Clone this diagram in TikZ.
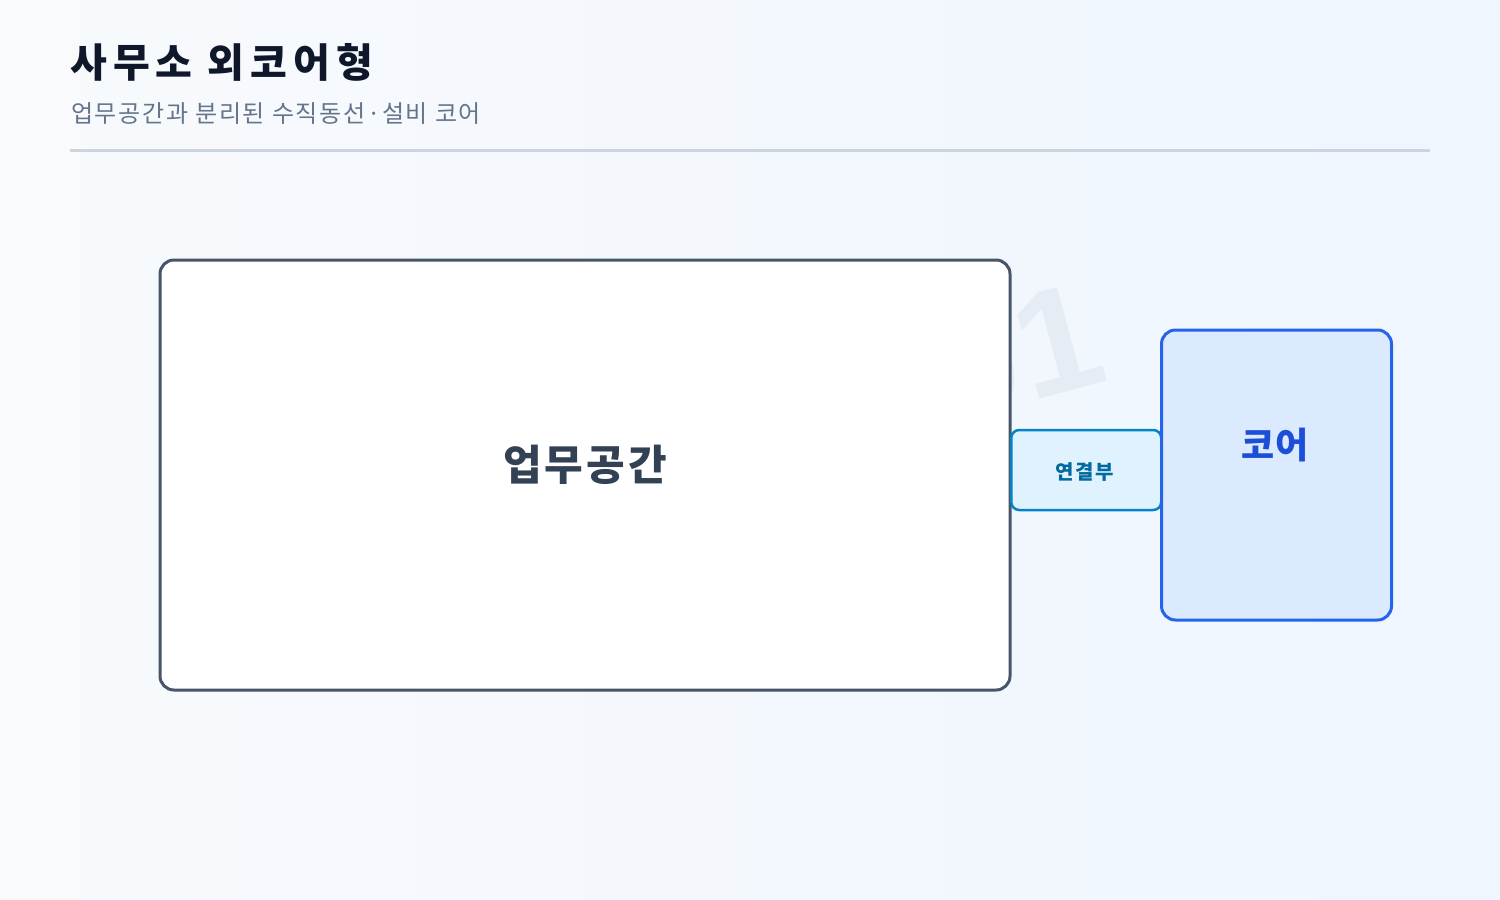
\documentclass[tikz,border=0pt]{standalone}
\usepackage{fontspec}
\usepackage{tikz}
\usetikzlibrary{positioning}
\setmainfont{Noto Sans CJK KR}
\newfontfamily\markfont{Liberation Sans}
\definecolor{bgtop}{HTML}{F8FAFC}
\definecolor{bgbot}{HTML}{EFF6FF}
\definecolor{titlec}{HTML}{0F172A}
\definecolor{subc}{HTML}{64748B}
\definecolor{rulec}{HTML}{CBD5E1}
\definecolor{workc}{HTML}{475569}
\definecolor{worktxt}{HTML}{334155}
\definecolor{linkfill}{HTML}{E0F2FE}
\definecolor{linkc}{HTML}{0284C7}
\definecolor{linktxt}{HTML}{0369A1}
\definecolor{corefill}{HTML}{DBEAFE}
\definecolor{corec}{HTML}{2563EB}
\definecolor{coretxt}{HTML}{1D4ED8}
\definecolor{markc}{HTML}{E6ECF4}

\begin{document}
\begin{tikzpicture}[x=1pt,y=-1pt,
node distance = 0pt and 0pt,
    room/.style = {rectangle, rounded corners=14pt, line width=3pt, inner sep=0pt},
    work/.style = {room, draw=workc, fill=white, minimum width=850pt, minimum height=430pt},
    link/.style = {room, rounded corners=8pt, line width=2.5pt, draw=linkc, fill=linkfill,
                   minimum width=150pt, minimum height=80pt},
    core/.style = {room, draw=corec, fill=corefill, minimum width=230pt, minimum height=290pt}
                    ]
% background
\shade[left color=bgtop, right color=bgbot] (0,0) rectangle (1500,900);
\useasboundingbox (0,0) rectangle (1500,900);

% heading
\node (title) [anchor=base west, inner sep=0pt, text=titlec,
      font=\fontsize{40}{44}\selectfont\bfseries\addfontfeature{LetterSpace=15}]
      at (70,77) {사무소 외코어형};
\node (sub) [anchor=base west, inner sep=0pt, text=subc,
      font=\fontsize{24}{28}\selectfont\addfontfeature{LetterSpace=7}]
      at (71,122) {업무공간과 분리된 수직동선·설비 코어};
\draw[rulec, line width=3pt] (70,150) -- (1430,150);

% watermark
\node (mark) [rotate=15, text=markc, inner sep=0pt, font=\markfont\fontsize{150}{150}\selectfont\bfseries]
      at (1017,352) {01};

% rooms
\node (work) [work] at (585,475) {};
\node (worklbl) [text=worktxt, font=\fontsize{42}{46}\selectfont\bfseries\addfontfeature{LetterSpace=7}]
      at (585,465) {업무공간};
\node (link) [link, anchor=west] at (1010,470) {};
\node (linklbl) [text=linktxt, font=\fontsize{20}{24}\selectfont\bfseries\addfontfeature{LetterSpace=8}]
      at (1085,472) {연결부};
\node (core) [core, anchor=west] at (1160,475) {};
\node (corelbl) [text=coretxt, font=\fontsize{36}{40}\selectfont\bfseries] at (1275,445) {코어};
\end{tikzpicture}
\end{document}
